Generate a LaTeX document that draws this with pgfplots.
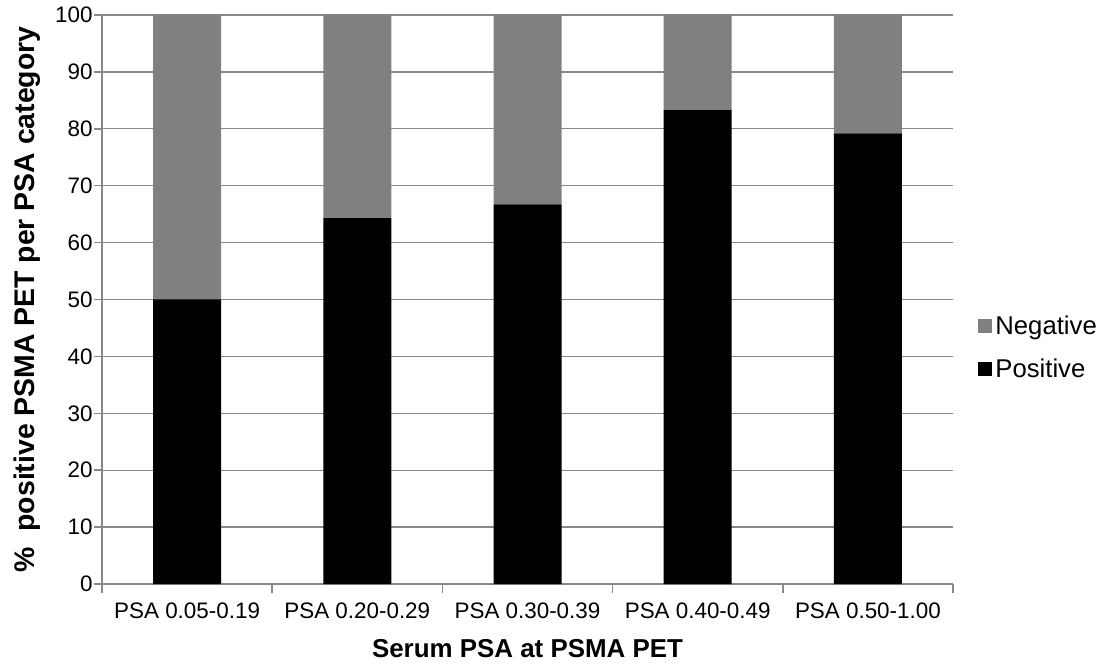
\documentclass[border=0pt]{standalone}
\usepackage{fontspec}
\setmainfont{Liberation Sans}
\usepackage{pgfplots}
\pgfplotsset{compat=1.18}
\definecolor{neg}{HTML}{808080}
\definecolor{axgray}{HTML}{888888}
\begin{document}
\begin{tikzpicture}
\begin{axis}[
  at={(0,0)}, anchor=south west,
  scale only axis, width=851bp, height=569bp,
  ybar stacked, bar width=68bp,
  xmin=-0.5, xmax=4.5, ymin=0, ymax=100,
  xtick={0,1,2,3,4},
  xticklabels={PSA 0.05-0.19, PSA 0.20-0.29, PSA 0.30-0.39, PSA 0.40-0.49, PSA 0.50-1.00},
  minor xtick={-0.5,0.5,1.5,2.5,3.5,4.5},
  major x tick style={draw=none},
  ytick={0,10,...,100},
  ymajorgrids, grid style={axgray, line width=1.3bp},
  axis x line*=bottom, axis y line*=left,
  axis line style={axgray, line width=2bp, -},
  tick style={axgray, line width=1.5bp},
  tick align=outside,
  major tick length=8bp, minor tick length=9bp,
  /pgf/number format/assume math mode=true,
  ticklabel style={font=\fontsize{22.5}{26}\selectfont, text=black},
  xticklabel style={yshift=-7bp},
  yticklabel style={xshift=2bp},
  xlabel={\textbf{Serum PSA at PSMA PET}},
  ylabel={\textbf{\%\ \ positive PSMA PET per PSA category}},
  xlabel style={font=\fontsize{26}{30}\selectfont, yshift=-14bp},
  ylabel style={font=\fontsize{28.5}{32}\selectfont},
  ylabel shift=8bp,
  reverse legend,
  legend image code/.code={\fill[#1] (0bp,-7bp) rectangle (14bp,7bp);},
  legend style={at={(1.029,0.416)}, anchor=west, draw=none, fill=none,
    font=\fontsize{25.8}{29}\selectfont, row sep=19bp, inner sep=0pt,
    nodes={inner xsep=3.5bp}},
  legend cell align=left,
]
\addplot[fill=black, draw=none] coordinates {(0,50) (1,64.3) (2,66.7) (3,83.3) (4,79.2)};
\addplot[fill=neg, draw=none] coordinates {(0,50) (1,35.7) (2,33.3) (3,16.7) (4,20.8)};
\legend{Positive, Negative}
\end{axis}
\pgfresetboundingbox
\path[use as bounding box] (-102bp,-81bp) rectangle (1009bp,584bp);
\end{tikzpicture}
\end{document}
